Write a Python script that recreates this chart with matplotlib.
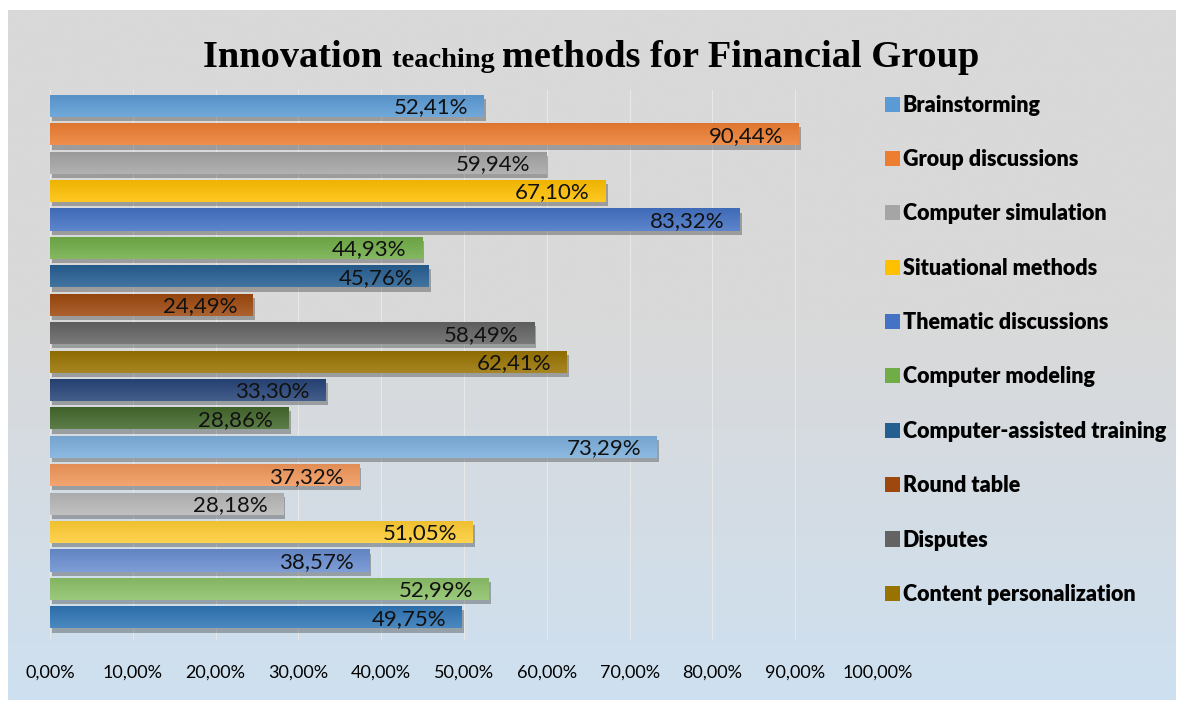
import numpy as np
import matplotlib.pyplot as plt
import matplotlib.patheffects as pe
from matplotlib.colors import to_rgb
from matplotlib.patches import Patch

# Dane wykresu
legend_names = ['Brainstorming', 'Group discussions', 'Computer simulation',
                'Situational methods', 'Thematic discussions', 'Computer modeling',
                'Computer-assisted training', 'Round table', 'Disputes',
                'Content personalization']
values = [52.41, 90.44, 59.94, 67.10, 83.32, 44.93, 45.76, 24.49, 58.49, 62.41,
          33.30, 28.86, 73.29, 37.32, 28.18, 51.05, 38.57, 52.99, 49.75]
colors = ['#5B9BD5', '#ED7D31', '#A5A5A5', '#FFC000', '#4472C4', '#70AD47',
          '#255E91', '#9E480E', '#636363', '#997300', '#264478', '#43682B',
          '#7CAFDD', '#F1975A', '#B7B7B7', '#FFCD33', '#698ED0', '#8CC168',
          '#2E75B6']
xticks = np.arange(0, 101, 10)
xtick_labels = [('%.2f%%' % v).replace('.', ',') for v in xticks]

W, H = 1184, 705
fig = plt.figure(figsize=(W / 100, H / 100), dpi=100)
fig.patch.set_facecolor('white')

# tlo z gradientem
bg = fig.add_axes([8 / W, 1 - 700 / H, (1176 - 8) / W, (700 - 10) / H], zorder=-10)
top = np.array([217, 217, 217]) / 255
bot = np.array([206, 224, 240]) / 255
t = np.linspace(0, 1, 256)
t = np.clip((t - 0.45) / 0.55, 0, 1)
grad = top[None, :] * (1 - t[:, None]) + bot[None, :] * t[:, None]
bg.imshow(grad[:, None, :], aspect='auto', extent=[0, 1, 0, 1], origin='upper')
bg.axis('off')

ax = fig.add_axes([50 / W, 1 - 640 / H, (878 - 50) / W, (640 - 90) / H])
ax.set_facecolor('none')

y = np.arange(len(values))
bh = 0.78
bars = ax.barh(y, values, height=bh, color=colors, zorder=3,
               path_effects=[pe.withSimplePatchShadow(offset=(1.5, -3), shadow_rgbFace='k', alpha=0.28),
                             pe.Normal()])

# gradient na slupkach (jasniejsza gora)
s = np.linspace(0, 1, 64)[:, None]
for b, c in zip(bars, colors):
    c = np.array(to_rgb(c))
    light = c + (1 - c) * 0.14
    dark = c * 0.93
    g = light[None, :] * (1 - s) + dark[None, :] * s
    x0, y0 = b.get_x(), b.get_y()
    im = ax.imshow(g[:, None, :], aspect='auto', origin='lower',
                   extent=[x0, x0 + b.get_width(), y0 + bh, y0], zorder=3.5)
    im.set_clip_path(b)

for yi, v in zip(y, values):
    ax.text(v - 1.9, yi + 0.05, ('%.2f%%' % v).replace('.', ','), ha='right', va='center',
            fontsize=16, family='Lato', color='#111111', zorder=4)

ax.set_xlim(0, 100)
ax.set_ylim(len(values) - 1 + 0.8, -0.56)
ax.set_xticks(xticks)
ax.set_xticklabels(xtick_labels, family='Lato', fontsize=13)
ax.set_yticks([])
ax.tick_params(axis='x', length=0, pad=18)
ax.grid(axis='x', color='#e8e8e8', lw=0.8, zorder=0)
for sp in ax.spines.values():
    sp.set_visible(False)

handles = [Patch(facecolor=colors[i], edgecolor='none') for i in range(len(legend_names))]
leg = fig.legend(handles, legend_names, loc='upper left', bbox_to_anchor=(876 / W, 1 - 86 / H),
                 frameon=False, prop={'family': 'Lato', 'weight': 'heavy', 'size': 15.5},
                 handlelength=0.7, handleheight=0.7, handletextpad=0.15,
                 labelspacing=1.55, borderaxespad=0)

# tytul z mniejszym slowem "teaching"
parts = [('Innovation ', 27.6), ('teaching ', 20.5), ('methods for Financial Group', 27.6)]
renderer = fig.canvas.get_renderer()
texts = []
widths = []
for txt, fs in parts:
    tx = fig.text(0, 1 - 67 / H, txt, fontsize=fs, family='Liberation Serif', weight='bold',
                  va='baseline', ha='left')
    texts.append(tx)
    widths.append(tx.get_window_extent(renderer).width)
x0 = 591 - sum(widths) / 2
for tx, w in zip(texts, widths):
    tx.set_x(x0 / W)
    x0 += w

fig.savefig('out.png', dpi=100)
